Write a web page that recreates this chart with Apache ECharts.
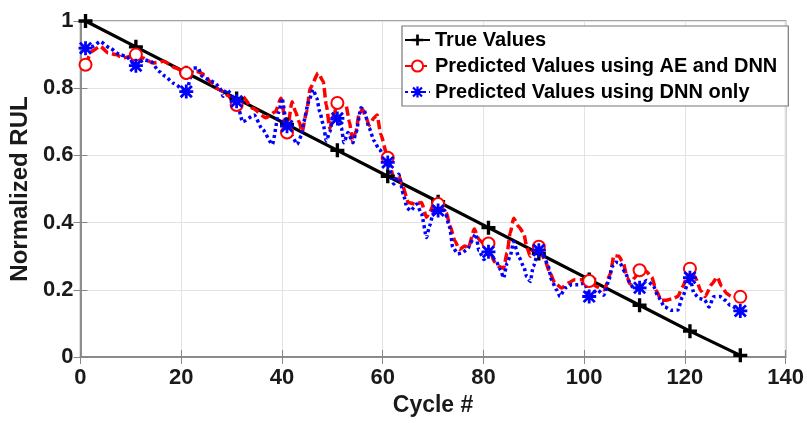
<!DOCTYPE html>
<html>
<head>
<meta charset="utf-8">
<script src="https://cdn.jsdelivr.net/npm/echarts@6/dist/echarts.min.js"></script>
<style>
  html, body { margin: 0; padding: 0; background: #fff; }
  #chart { width: 807px; height: 423px; }
</style>
</head>
<body>
<div id="chart"></div>
<script>
// RUL prediction vs true values
var xTicks = [0, 20, 40, 60, 80, 100, 120, 140];
var yTicks = [0, 0.2, 0.4, 0.6, 0.8, 1];
var markerCycles = [1, 11, 21, 31, 41, 51, 61, 71, 81, 91, 101, 111, 121, 131];

var trueCycle = [1, 11, 21, 31, 41, 51, 61, 71, 81, 91, 101, 111, 121, 131];
var trueValue = [1.0, 0.923, 0.846, 0.769, 0.692, 0.615, 0.538, 0.462, 0.385, 0.308, 0.231, 0.154, 0.077, 0.005];

var aeCycle = [1, 2.3, 3.9, 5.5, 7, 8.5, 10, 11, 12.4, 14.4, 16.5, 18.9, 21, 23.1, 24.7, 25.7, 27, 28.3, 29.2,
  31, 32.2, 34.2, 36.8, 38.7, 39.8, 41, 42, 42.7, 43.4, 44, 44.9, 45.6, 47.2, 48.2, 48.8, 49.5, 50.3,
  51, 52.7, 53.4, 54, 54.7, 55.3, 56, 56.7, 57.3, 58.3, 58.9, 59.6, 61, 62.2, 63.2, 63.8, 65.1, 66.4,
  67.7, 68.7, 69.3, 70.3, 71, 72.6, 73.4, 74.3, 75.2, 76.3, 77, 78.2, 79.1, 80.1, 81, 82.1, 83, 84,
  84.7, 85.3, 86, 87, 88, 88.6, 89.3, 89.9, 91, 92.2, 93.2, 94.2, 95.5, 96.8, 98.1, 99.4, 101, 102.6,
  104, 105.2, 105.9, 106.9, 107.8, 108.5, 109.1, 110, 111, 112.3, 113.4, 114.3, 115.3, 116.3, 117.6,
  118.6, 119.5, 121, 122.2, 123.1, 124, 125.4, 126.4, 127.3, 128.3, 129.2, 131];
var aeValue = [0.87, 0.91, 0.925, 0.905, 0.9, 0.89, 0.895, 0.9, 0.89, 0.875, 0.88, 0.86, 0.845, 0.85, 0.84, 0.82, 0.8, 0.79, 0.778,
  0.75, 0.775, 0.74, 0.712, 0.73, 0.77, 0.668, 0.76, 0.73, 0.7, 0.67, 0.73, 0.8, 0.845, 0.82, 0.75, 0.68, 0.72,
  0.756, 0.75, 0.7, 0.643, 0.672, 0.722, 0.737, 0.712, 0.69, 0.712, 0.72, 0.663, 0.593, 0.534, 0.54, 0.515, 0.46, 0.455,
  0.46, 0.416, 0.43, 0.46, 0.455, 0.43, 0.39, 0.347, 0.32, 0.33, 0.325, 0.381, 0.35, 0.337, 0.338, 0.284, 0.27, 0.264,
  0.31, 0.368, 0.413, 0.388, 0.368, 0.328, 0.3, 0.318, 0.328, 0.289, 0.25, 0.22, 0.205, 0.22, 0.23, 0.23, 0.226, 0.208,
  0.2, 0.248, 0.302, 0.3, 0.278, 0.238, 0.218, 0.235, 0.258, 0.255, 0.238, 0.198, 0.169, 0.169, 0.174,
  0.18, 0.208, 0.263, 0.233, 0.198, 0.18, 0.218, 0.238, 0.21, 0.189, 0.18, 0.179];

var dnnCycle = [1, 2.5, 3.9, 5.9, 7.8, 9, 11, 12.5, 14, 15.6, 16.8, 18.4, 21, 22.4, 23.4, 24.1, 25.5, 26.7, 27.7, 28.3, 29,
  31, 32.2, 34.5, 36.1, 38.1, 39.4, 40, 41, 42, 43, 43.9, 44.3, 45.3, 46.2, 46.9, 47.5, 48.2, 48.8, 49.5, 50.1,
  51, 51.8, 52.3, 53.1, 54.1, 54.7, 55.7, 56.3, 57.3, 58.3, 59.3, 61, 62.2, 63.2, 64.1, 64.8, 65.5, 66.8, 67.7,
  68.7, 69.3, 70, 71, 72.3, 73.3, 73.9, 74.9, 75.8, 76.7, 78.5, 79.1, 80.1, 81, 82.4, 83.4, 84, 84.7, 85.3, 86,
  87, 88, 88.6, 89.3, 89.9, 91, 92, 92.9, 93.5, 94.5, 95.2, 96.2, 97.5, 98.8, 100.1, 101, 102.6, 103.9, 104.9,
  105.5, 106.2, 107.1, 108.1, 109.1, 109.8, 111, 112.4, 113.7, 114.7, 116, 117.3, 118.6, 119.5, 121, 121.8,
  122.9, 123.9, 124.8, 125.7, 127, 128, 129, 131];
var dnnValue = [0.919, 0.925, 0.939, 0.919, 0.9, 0.895, 0.867, 0.885, 0.88, 0.85, 0.836, 0.815, 0.79, 0.86, 0.86, 0.836, 0.825, 0.816, 0.8, 0.776, 0.796,
  0.761, 0.7, 0.72, 0.678, 0.633, 0.73, 0.77, 0.687, 0.658, 0.633, 0.66, 0.7, 0.76, 0.796, 0.771, 0.73, 0.692, 0.643, 0.67, 0.712,
  0.71, 0.682, 0.638, 0.668, 0.638, 0.668, 0.742, 0.735, 0.682, 0.643, 0.618, 0.579, 0.515, 0.544, 0.485, 0.445, 0.435, 0.455, 0.426,
  0.356, 0.39, 0.426, 0.436, 0.436, 0.386, 0.327, 0.307, 0.31, 0.32, 0.366, 0.317, 0.29, 0.313, 0.289, 0.259, 0.235, 0.28, 0.3, 0.343,
  0.299, 0.269, 0.239, 0.225, 0.27, 0.318, 0.3, 0.269, 0.23, 0.2, 0.18, 0.205, 0.215, 0.215, 0.22, 0.18, 0.2, 0.184, 0.228,
  0.268, 0.282, 0.28, 0.253, 0.22, 0.204, 0.206, 0.228, 0.213, 0.179, 0.149, 0.139, 0.14, 0.179, 0.236, 0.189,
  0.174, 0.17, 0.149, 0.179, 0.18, 0.169, 0.154, 0.137];

var plusSymbol = 'path://M3.8,0 H6.2 V3.8 H10 V6.2 H6.2 V10 H3.8 V6.2 H0 V3.8 H3.8 Z';
var starSymbol = 'path://M4,0 H6 V10 H4 Z M0,4 H10 V6 H0 Z ' +
  'M1.7,0.3 L9.7,8.3 L8.3,9.7 L0.3,1.7 Z M9.7,1.7 L1.7,9.7 L0.3,8.3 L8.3,0.3 Z';

function pairs(xs, ys) {
  return xs.map(function (x, i) {
    var item = { value: [x, ys[i]] };
    if (markerCycles.indexOf(x) < 0) item.symbol = 'none';
    return item;
  });
}

var chart = echarts.init(document.getElementById('chart'));
var labelFont = { fontFamily: 'Liberation Sans, Arial, sans-serif', fontWeight: 'bold', color: '#1a1a1a' };

var option = {
  animation: false,
  backgroundColor: '#fff',
  grid: { left: 77, top: 21, right: 17, bottom: 66, show: true, borderColor: '#888', borderWidth: 1.5 },
  legend: {
    orient: 'vertical',
    left: 402, top: 26,
    padding: [4, 11, 4, 2],
    itemGap: 6,
    itemWidth: 25, itemHeight: 14,
    backgroundColor: '#fff',
    borderColor: '#777', borderWidth: 1.2,
    textStyle: { fontFamily: 'Liberation Sans, Arial, sans-serif', fontWeight: 'bold', fontSize: 20, color: '#000', lineHeight: 20 },
    data: ['True Values', 'Predicted Values using AE and DNN', 'Predicted Values using DNN only']
  },
  xAxis: [{
    type: 'value', min: xTicks[0], max: xTicks[xTicks.length - 1], interval: 20,
    name: 'Cycle #', nameLocation: 'middle', nameGap: 35,
    nameTextStyle: Object.assign({ fontSize: 23 }, labelFont),
    axisLine: { show: true, lineStyle: { color: '#888', width: 1.5 } },
    axisTick: { inside: true, length: 7, lineStyle: { color: '#888' } },
    axisLabel: Object.assign({ fontSize: 22, margin: 10 }, labelFont),
    splitLine: { show: true, lineStyle: { color: '#e3e3e3', width: 1 } }
  }, {
    type: 'value', position: 'top', min: xTicks[0], max: xTicks[xTicks.length - 1], interval: 20,
    axisLine: { show: true, lineStyle: { color: '#888', width: 1.5 } },
    axisTick: { inside: true, length: 7, lineStyle: { color: '#888' } },
    axisLabel: { show: false }, splitLine: { show: false }
  }],
  yAxis: [{
    type: 'value', min: yTicks[0], max: yTicks[yTicks.length - 1], interval: 0.2,
    name: 'Normalized RUL', nameLocation: 'middle', nameGap: 36,
    nameTextStyle: Object.assign({ fontSize: 24 }, labelFont),
    axisLine: { show: true, lineStyle: { color: '#888', width: 1.5 } },
    axisTick: { inside: true, length: 7, lineStyle: { color: '#888' } },
    axisLabel: Object.assign({ fontSize: 22, margin: 7 }, labelFont),
    splitLine: { show: true, lineStyle: { color: '#e3e3e3', width: 1 } }
  }, {
    type: 'value', position: 'right', min: yTicks[0], max: yTicks[yTicks.length - 1], interval: 0.2,
    axisLine: { show: true, lineStyle: { color: '#888', width: 1.5 } },
    axisTick: { inside: true, length: 7, lineStyle: { color: '#888' } },
    axisLabel: { show: false }, splitLine: { show: false }
  }],
  series: [{
    name: 'True Values', type: 'line',
    data: pairs(trueCycle, trueValue),
    symbol: plusSymbol, symbolSize: 14,
    itemStyle: { color: '#000' },
    lineStyle: { color: '#000', width: 3.2 }
  }, {
    name: 'Predicted Values using AE and DNN', type: 'line',
    data: pairs(aeCycle, aeValue),
    smooth: 0.2, smoothMonotone: 'x',
    symbol: 'emptyCircle', symbolSize: 12,
    itemStyle: { color: '#ff0000', borderColor: '#ff0000', borderWidth: 3 },
    lineStyle: { color: '#ff0000', width: 3.5, type: [9, 4] }
  }, {
    name: 'Predicted Values using DNN only', type: 'line',
    data: pairs(dnnCycle, dnnValue),
    smooth: 0.2, smoothMonotone: 'x',
    symbol: starSymbol, symbolSize: 14,
    itemStyle: { color: '#0000ff' },
    lineStyle: { color: '#0000ff', width: 3.5, type: [3, 3] }
  }]
};
chart.setOption(option);
</script>
</body>
</html>
